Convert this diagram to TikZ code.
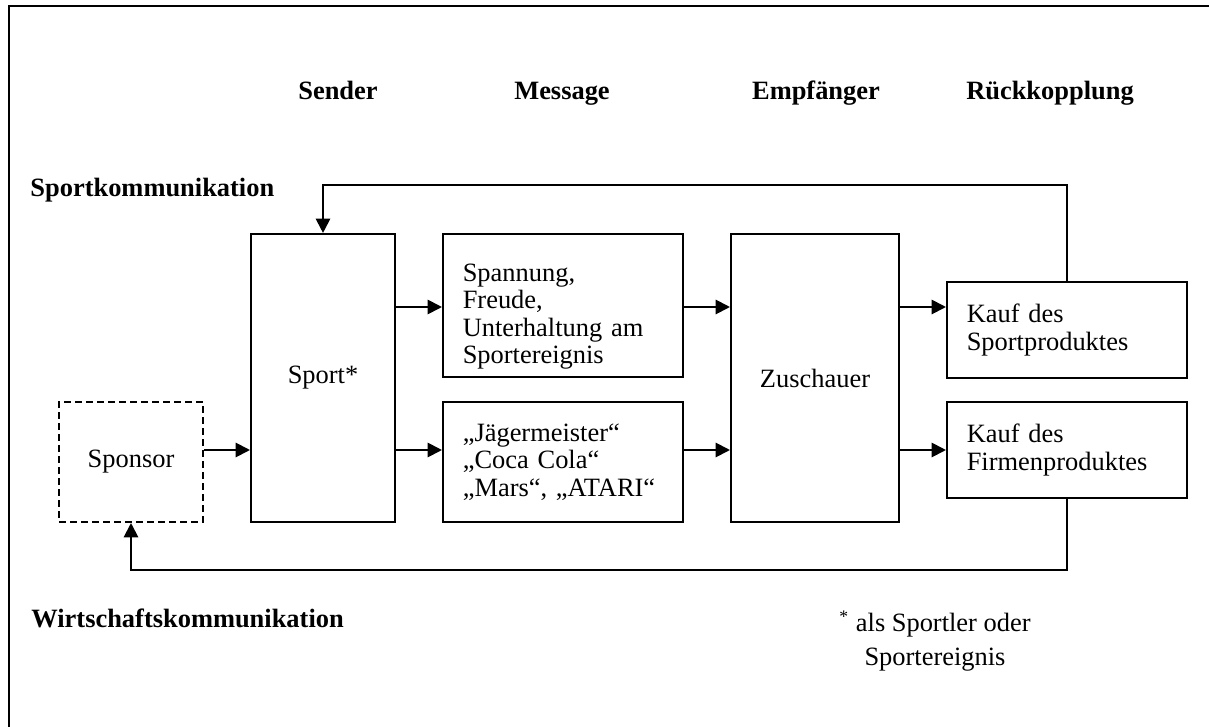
\documentclass[tikz,border=0pt]{standalone}
\usepackage{fontspec}
\setmainfont{Liberation Serif}
\usetikzlibrary{arrows.meta}

\tikzset{
  box/.style={draw, line width=0.9pt, inner sep=0pt, align=center},
  textbox/.style={box, align=left, inner xsep=9pt, text width=91pt, minimum width=109pt},
  arr/.style={line width=0.9pt, -{Triangle[length=6.5pt,width=6.5pt]}},
  heading/.style={font=\fontsize{12}{12.5}\selectfont\bfseries, anchor=base, inner sep=0pt}
}

\begin{document}
\begin{tikzpicture}[x=0.454pt, y=-0.454pt, font=\fontsize{12}{12.5}\selectfont]
      \useasboundingbox (0,0) rectangle (1209,727);
      \draw[line width=1.2pt] (9,727) -- (9,6) -- (1209,6);

      % column headings
      \node[heading] (sender) at (338,100) {Sender};
      \node[heading] (message) at (562,100) {Message};
      \node[heading] (empfaenger) at (816,100) {Empfänger};
      \node[heading] (rueck) at (1050,100) {Rückkopplung};
      \node[heading, anchor=base west] (sportkomm) at (30,196) {Sportkommunikation};
      \node[heading, anchor=base west] (wirtkomm) at (31,627) {Wirtschaftskommunikation};

      % boxes
      \node[box, dash pattern=on 3pt off 2pt, minimum width=65.4pt, minimum height=54.5pt] (sponsor) at (131,462) {Sponsor};
      \node[box, minimum width=65.4pt, minimum height=130.8pt] (sport) at (323,378) {Sport*};
      \node[textbox, minimum height=64.9pt] (spannung) at (563,305.5) {\rule{0pt}{18pt}Spannung,\\ Freude,\\ Unterhaltung am\\ Sportereignis};
      \node[textbox, minimum height=54.5pt] (marken) at (563,462) {„Jägermeister“\\ „Coca Cola“\\ „Mars“, „ATARI“};
      \node[box, minimum width=76.3pt, minimum height=130.8pt] (zuschauer) at (815,378) {Zuschauer};
      \node[textbox, minimum height=43.6pt] (kaufsport) at (1067,330) {Kauf des\\ Sportproduktes};
      \node[textbox, minimum height=43.6pt] (kauffirma) at (1067,450) {Kauf des\\ Firmenproduktes};

      \node[anchor=base, align=center, inner sep=0pt, font=\fontsize{12}{15}\selectfont] (fussnote) at (935,665) {\textsuperscript{*} als Sportler oder\\ Sportereignis};

      % rows of the arrows
      \coordinate (row1) at (0,307);
      \coordinate (row2) at (0,450);
      \coordinate (oben) at (0,185);
      \coordinate (unten) at (0,570);

      \draw[arr] (sponsor.east |- row2) -- (sport.west |- row2);
      \draw[arr] (sport.east |- row1) -- (spannung.west |- row1);
      \draw[arr] (sport.east |- row2) -- (marken.west |- row2);
      \draw[arr] (spannung.east |- row1) -- (zuschauer.west |- row1);
      \draw[arr] (marken.east |- row2) -- (zuschauer.west |- row2);
      \draw[arr] (zuschauer.east |- row1) -- (kaufsport.west |- row1);
      \draw[arr] (zuschauer.east |- row2) -- (kauffirma.west |- row2);

      % feedback
      \draw[arr] (kaufsport.north) |- (oben -| sport.north) -- (sport.north);
      \draw[arr] (kauffirma.south) |- (unten -| sponsor.south) -- (sponsor.south);
\end{tikzpicture}
\end{document}
